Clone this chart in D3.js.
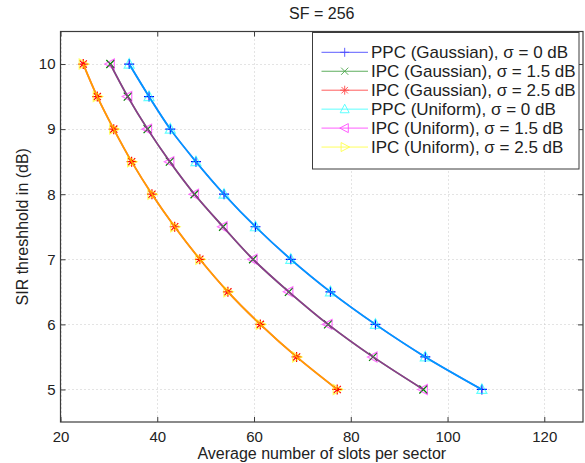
<!DOCTYPE html>
<html>
<head>
<meta charset="utf-8">
<script src="https://cdn.jsdelivr.net/npm/d3@7"></script>
<style>
  html, body { margin: 0; padding: 0; background: #fff; }
  svg { display: block; font-family: "Liberation Sans", Arial, Helvetica, sans-serif; }
</style>
</head>
<body>
<svg id="chart" width="585" height="463"></svg>
<script>
// SIR threshold levels (dB), shared by every curve
const sirThreshold = [10, 9.5, 9, 8.5, 8, 7.5, 7, 6.5, 6, 5.5, 5];

// Average number of slots per sector at each threshold
const ppcGaussian0   = [34.2, 38.3, 42.7, 48.0, 53.8, 60.3, 67.6, 75.8, 85.1, 95.4, 107.1];
const ipcGaussian15  = [30.3, 33.9, 38.0, 42.6, 47.7, 53.6, 59.8, 67.2, 75.3, 84.6, 95.0];
const ipcGaussian25  = [24.7, 27.6, 31.0, 34.7, 38.9, 43.6, 48.8, 54.6, 61.3, 68.8, 77.2];
const ppcUniform0    = [34.2, 38.3, 42.7, 48.0, 53.8, 60.3, 67.6, 75.8, 85.1, 95.4, 107.1];
const ipcUniform15   = [30.3, 33.9, 38.0, 42.6, 47.7, 53.6, 59.8, 67.2, 75.3, 84.6, 95.0];
const ipcUniform25   = [24.7, 27.6, 31.0, 34.7, 38.9, 43.6, 48.8, 54.6, 61.3, 68.8, 77.2];

const seriesNames = [
  "PPC (Gaussian), \u03c3 = 0 dB",
  "IPC (Gaussian), \u03c3 = 1.5 dB",
  "IPC (Gaussian), \u03c3 = 2.5 dB",
  "PPC (Uniform), \u03c3 = 0 dB",
  "IPC (Uniform), \u03c3 = 1.5 dB",
  "IPC (Uniform), \u03c3 = 2.5 dB"
];
const seriesValues = [ppcGaussian0, ipcGaussian15, ipcGaussian25, ppcUniform0, ipcUniform15, ipcUniform25];

const xTicks = [20, 40, 60, 80, 100, 120];
const yTicks = [5, 6, 7, 8, 9, 10];

const titleText = "SF = 256";
const xLabelText = "Average number of slots per sector";
const yLabelText = "SIR threshhold in (dB)";

// ---- styling per series (Uniform curves are semi-transparent over the Gaussian ones) ----
const seriesStyle = [
  { color: "#0000ff", marker: "plus",  opacity: 1 },
  { color: "#008000", marker: "cross", opacity: 1 },
  { color: "#ff0000", marker: "star",  opacity: 1 },
  { color: "#00ffff", marker: "triUp",    opacity: 0.6 },
  { color: "#ff00ff", marker: "triLeft",  opacity: 0.55 },
  { color: "#ffff00", marker: "triRight", opacity: 0.62 }
];

const markerPaths = {
  plus:  "M-5,0H5M0,-5V5",
  cross: "M-4,-4L4,4M-4,4L4,-4",
  star:  "M-5,0H5M0,-5V5M-3.6,-3.6L3.6,3.6M-3.6,3.6L3.6,-3.6",
  triUp:    "M0,-5.5L5,4L-5,4Z",
  triLeft:  "M-5.5,0L4,-5L4,5Z",
  triRight: "M5.5,0L-4,-5L-4,5Z"
};

const svg = d3.select("#chart");
const plot = { left: 60.5, right: 583, top: 31.5, bottom: 422 };

const x = d3.scaleLinear().domain([20, 128]).range([plot.left, plot.right]);
const y = d3.scaleLinear().domain([4.5, 10.5]).range([plot.bottom, plot.top]);

const axisColor = "#3c3c3c";
const tickFont = 15;
const labelFont = 16;

// grid
const grid = svg.append("g").attr("stroke", "#c8c8c8").attr("stroke-width", 1)
  .attr("stroke-dasharray", "1,3");
grid.selectAll("line.gx").data(xTicks).join("line")
  .attr("x1", d => Math.round(x(d)) + 0.5).attr("x2", d => Math.round(x(d)) + 0.5)
  .attr("y1", plot.top).attr("y2", plot.bottom);
grid.selectAll("line.gy").data(yTicks).join("line")
  .attr("y1", d => Math.round(y(d)) + 0.5).attr("y2", d => Math.round(y(d)) + 0.5)
  .attr("x1", plot.left).attr("x2", plot.right);

// curves
const line = d3.line().x(d => x(d[0])).y(d => y(d[1])).curve(d3.curveMonotoneY);
seriesValues.forEach((vals, i) => {
  const st = seriesStyle[i];
  const pts = vals.map((v, j) => [v, sirThreshold[j]]);
  const g = svg.append("g").attr("opacity", st.opacity);
  g.append("path").datum(pts).attr("d", line)
    .attr("fill", "none").attr("stroke", st.color).attr("stroke-width", 1.7);
  g.selectAll("path.m").data(pts).join("path")
    .attr("class", "m")
    .attr("transform", d => `translate(${x(d[0])},${y(d[1])})`)
    .attr("d", markerPaths[st.marker])
    .attr("fill", "none").attr("stroke", st.color).attr("stroke-width", 1.2);
});

// axes
function styleAxis(g) {
  g.select(".domain").remove();
  g.selectAll(".tick line").attr("stroke", axisColor);
  g.selectAll(".tick text").attr("fill", "#222").attr("font-size", tickFont)
    .attr("font-family", "Liberation Sans, Arial, sans-serif");
}
svg.append("g").attr("transform", `translate(0,${plot.bottom})`)
  .call(d3.axisBottom(x).tickValues(xTicks).tickFormat(d3.format("d")).tickSize(-5).tickPadding(9))
  .call(styleAxis);
svg.append("g").attr("transform", `translate(0,${plot.top})`)
  .call(d3.axisTop(x).tickValues(xTicks).tickSize(-5).tickFormat(""))
  .call(styleAxis);
svg.append("g").attr("transform", `translate(${plot.left},0)`)
  .call(d3.axisLeft(y).tickValues(yTicks).tickFormat(d3.format("d")).tickSize(-5).tickPadding(5))
  .call(styleAxis);
svg.append("g").attr("transform", `translate(${plot.right},0)`)
  .call(d3.axisRight(y).tickValues(yTicks).tickSize(-5).tickFormat(""))
  .call(styleAxis);

svg.append("rect")
  .attr("x", plot.left).attr("y", plot.top)
  .attr("width", plot.right - plot.left).attr("height", plot.bottom - plot.top)
  .attr("fill", "none").attr("stroke", axisColor).attr("stroke-width", 1.2);

// legend
const legend = { x: 312.5, y: 32.5, w: 266.5, h: 136.5, row0: 52.3, rowStep: 18.95 };
const lg = svg.append("g");
lg.append("rect").attr("x", legend.x).attr("y", legend.y)
  .attr("width", legend.w).attr("height", legend.h)
  .attr("fill", "#fff").attr("stroke", axisColor).attr("stroke-width", 1);
seriesNames.forEach((name, i) => {
  const st = seriesStyle[i];
  const cy = legend.row0 + i * legend.rowStep;
  const item = lg.append("g").attr("opacity", 0.7);
  item.append("line").attr("x1", 321.5).attr("x2", 368).attr("y1", cy).attr("y2", cy)
    .attr("stroke", st.color).attr("stroke-width", 0.9);
  item.append("path").attr("transform", `translate(344.7,${cy}) scale(0.9)`)
    .attr("d", markerPaths[st.marker]).attr("fill", "none")
    .attr("stroke", st.color).attr("stroke-width", 1);
  lg.append("text").attr("x", 371).attr("y", cy).attr("dy", "0.36em")
    .attr("font-size", 17).attr("fill", "#222").text(name);
});

// titles
svg.append("text").attr("x", (plot.left + plot.right) / 2).attr("y", 19)
  .attr("text-anchor", "middle").attr("font-size", labelFont).attr("fill", "#222")
  .text(titleText);
svg.append("text").attr("x", (plot.left + plot.right) / 2).attr("y", 459)
  .attr("text-anchor", "middle").attr("font-size", labelFont).attr("fill", "#222")
  .text(xLabelText);
svg.append("text")
  .attr("transform", `translate(28,${(plot.top + plot.bottom) / 2}) rotate(-90)`)
  .attr("text-anchor", "middle").attr("font-size", labelFont).attr("fill", "#222")
  .text(yLabelText);
</script>
</body>
</html>
